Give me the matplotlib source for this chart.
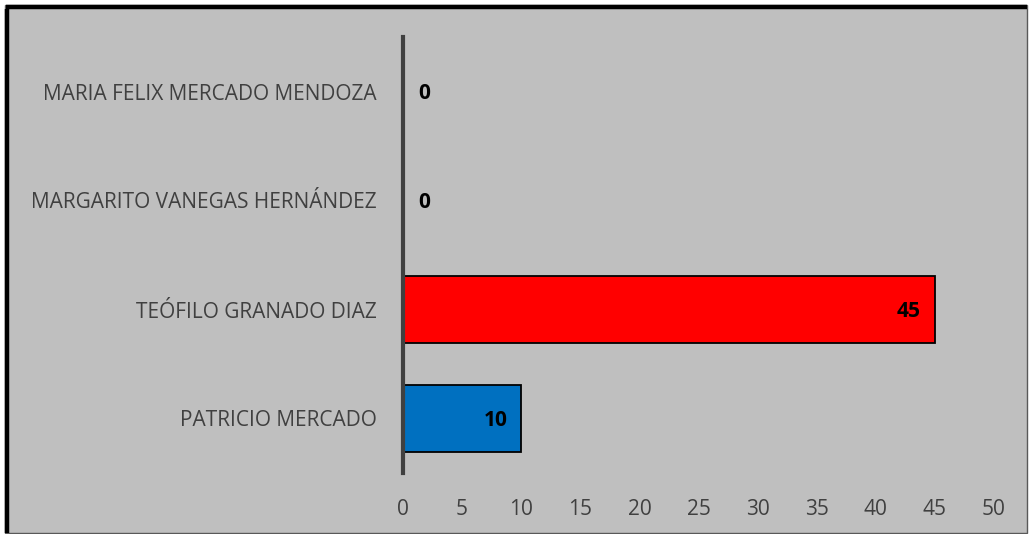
import matplotlib
matplotlib.use('Agg')
import matplotlib.pyplot as plt
import matplotlib.patches as patches

# data (bottom to top)
names = ['PATRICIO MERCADO', 'TEÓFILO GRANADO DIAZ',
         'MARGARITO VANEGAS HERNÁNDEZ', 'MARIA FELIX MERCADO MENDOZA']
votes = [10, 45, 0, 0]
colors = ['#0070C0', '#FF0000', '#FFC000', '#70AD47']
xticks = [0, 5, 10, 15, 20, 25, 30, 35, 40, 45, 50]

W, H = 1029, 534
fig = plt.figure(figsize=(W / 100, H / 100), dpi=100)
fig.patch.set_facecolor('white')

# chart area background with border
bg = patches.Rectangle((5 / W, 1 / H), (W - 7) / W, (H - 6) / H, transform=fig.transFigure,
                       facecolor='#BFBFBF', edgecolor='#595959', linewidth=1, zorder=-5)
fig.patches.append(bg)
fig.add_artist(plt.Line2D([7 / W, 7 / W], [1 / H, (H - 8.5) / H], color='black', lw=3.2,
                          transform=fig.transFigure, zorder=-4, solid_capstyle='butt'))
fig.add_artist(plt.Line2D([5.5 / W, (W - 2) / W], [(H - 7) / H, (H - 7) / H], color='black', lw=3.2,
                          transform=fig.transFigure, zorder=-4, solid_capstyle='butt'))

ax = fig.add_axes([403 / W, 1 - 473 / H, (994 - 403) / W, (473 - 37) / H])
ax.set_facecolor('none')

y = list(range(len(names)))
ax.barh(y, votes, height=0.62, color=colors, edgecolor='black', linewidth=1.3, zorder=2)

for yi, v in zip(y, votes):
    if v > 0:
        ax.annotate(str(v), (v, yi), xytext=(-14, -2), textcoords='offset pixels',
                    ha='right', va='center', fontsize=15, fontweight='bold', color='black',
                    family='Open Sans')
    else:
        ax.annotate(str(v), (v, yi), xytext=(15, -2), textcoords='offset pixels',
                    ha='left', va='center', fontsize=15, fontweight='bold', color='black',
                    family='Open Sans')

ax.set_xlim(0, 50)
ax.set_ylim(-0.5, 3.5)
ax.set_xticks(xticks)
ax.set_yticks(y)
ax.set_yticklabels(names)
ax.tick_params(axis='both', length=0, colors='#404040', labelsize=15)
ax.tick_params(axis='x', pad=18.5)
ax.tick_params(axis='y', pad=19)
for lab in ax.get_xticklabels() + ax.get_yticklabels():
    lab.set_family('Open Sans')

for s in ['top', 'right', 'bottom']:
    ax.spines[s].set_visible(False)
ax.spines['left'].set_color('#404040')
ax.spines['left'].set_linewidth(3)
ax.spines['left'].set_zorder(3)

plt.savefig('out.png', dpi=100)
